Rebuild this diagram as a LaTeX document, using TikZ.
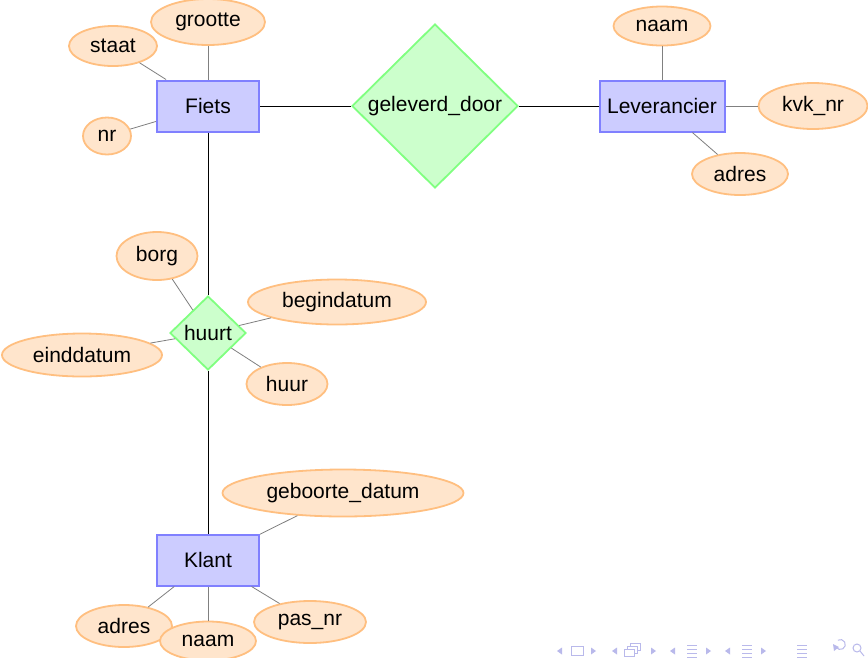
\documentclass[tikz,border=0pt]{standalone}
\usepackage{fontspec}
\setmainfont{Liberation Sans}
\usetikzlibrary{shapes.geometric}
\definecolor{navc}{RGB}{185,185,235}
\tikzset{
  every node/.style={font=\fontsize{21}{24}\selectfont, inner sep=0pt},
  entity/.style={rectangle, draw=blue!50, fill=blue!20, line width=2pt, minimum height=51pt},
  rel/.style={diamond, draw=green!50, fill=green!20, line width=1.8pt, aspect=1},
  attr/.style={ellipse, draw=orange!50, fill=orange!20, line width=1.8pt},
  aline/.style={draw=gray, line width=0.8pt},
  rline/.style={draw=black, line width=0.9pt},
  nav/.style={fill=navc, draw=none},
  navl/.style={draw=navc, line width=1pt}
}
\begin{document}
\begin{tikzpicture}[x=1pt,y=-1pt]
\clip (0,0) rectangle (868,657);
\fill[white] (0,0) rectangle (868,657);
% entities
\node[entity, minimum width=102pt] (fiets) at (208,106) {Fiets};
\node[entity, minimum width=125pt] (lev) at (662,106) {Leverancier};
\node[entity, minimum width=102pt] (klant) at (208,560) {Klant};
% relationships
\node[rel, minimum width=166pt, minimum height=164pt] (gd) at (435,106) {geleverd\_door};
\node[rel, minimum width=76pt, minimum height=74pt] (huurt) at (208,333) {huurt};
% attributes
\node[attr, minimum width=114pt, minimum height=46pt] (grootte) at (208,22) {grootte};
\node[attr, minimum width=88pt, minimum height=40pt] (staat) at (113,46) {staat};
\node[attr, minimum width=48pt, minimum height=37pt] (nr) at (107,136) {nr};
\node[attr, minimum width=97pt, minimum height=39pt] (lnaam) at (662,26) {naam};
\node[attr, minimum width=109pt, minimum height=46pt] (kvk) at (813,106) {kvk\_nr};
\node[attr, minimum width=96pt, minimum height=42pt] (ladres) at (740,174) {adres};
\node[attr, minimum width=81pt, minimum height=48pt] (borg) at (157,256) {borg};
\node[attr, minimum width=178pt, minimum height=45pt] (begin) at (337,302) {begindatum};
\node[attr, minimum width=160pt, minimum height=43pt] (eind) at (82,355) {einddatum};
\node[attr, minimum width=81pt, minimum height=42pt] (huur) at (287,384) {huur};
\node[attr, minimum width=241pt, minimum height=47pt] (geb) at (343,493) {geboorte\_datum};
\node[attr, minimum width=96pt, minimum height=42pt] (kadres) at (124,626) {adres};
\node[attr, minimum width=96pt, minimum height=39pt] (knaam) at (208,641) {naam};
\node[attr, minimum width=112pt, minimum height=42pt] (pas) at (310,622) {pas\_nr};
% connectors
\path[rline] (fiets) -- (gd);
\path[rline] (gd) -- (lev);
\path[rline] (fiets) -- (huurt);
\path[rline] (huurt) -- (klant);
\path[aline] (fiets) -- (grootte);
\path[aline] (fiets) -- (staat);
\path[aline] (fiets) -- (nr);
\path[aline] (lev) -- (lnaam);
\path[aline] (lev) -- (kvk);
\path[aline] (lev) -- (ladres);
\path[aline] (huurt) -- (borg);
\path[aline] (huurt) -- (begin);
\path[aline] (huurt) -- (eind);
\path[aline] (huurt) -- (huur);
\path[aline] (klant) -- (geb);
\path[aline] (klant) -- (kadres);
\path[aline] (klant) -- (knaam);
\path[aline] (klant) -- (pas);
% navigation symbols
\fill[nav] (557,651) -- (562,647.5) -- (562,654.5) -- cycle;
\draw[navl] (571,646.5) rectangle (583,655.5);
\fill[nav] (596,651) -- (591,647.5) -- (591,654.5) -- cycle;
\fill[nav] (612,651) -- (617,647.5) -- (617,654.5) -- cycle;
\draw[navl, fill=white] (630,643) rectangle (640,650);
\draw[navl, fill=white] (627,646) rectangle (637,653);
\draw[navl, fill=white] (624,649) rectangle (634,656);
\fill[nav] (656,651) -- (651,647.5) -- (651,654.5) -- cycle;
\fill[nav] (670,651) -- (675,647.5) -- (675,654.5) -- cycle;
\draw[navl] (687,645) -- (697,645) (687,649) -- (697,649) (687,653) -- (697,653) (687,657) -- (697,657);
\fill[nav] (711,651) -- (706,647.5) -- (706,654.5) -- cycle;
\fill[nav] (725,651) -- (730,647.5) -- (730,654.5) -- cycle;
\draw[navl] (742,645) -- (752,645) (742,649) -- (752,649) (742,653) -- (752,653) (742,657) -- (752,657);
\fill[nav] (766,651) -- (761,647.5) -- (761,654.5) -- cycle;
\draw[navl] (797,645) -- (807,645) (797,649) -- (807,649) (797,653) -- (807,653) (797,657) -- (807,657);
\draw[navl] (836,647) arc[start angle=150, end angle=-120, radius=5];
\fill[nav] (833,644) -- (839,647) -- (834,651) -- cycle;
\draw[navl] (857,648) circle[radius=4];
\draw[navl] (860,651) -- (864,656);
\end{tikzpicture}
\end{document}
